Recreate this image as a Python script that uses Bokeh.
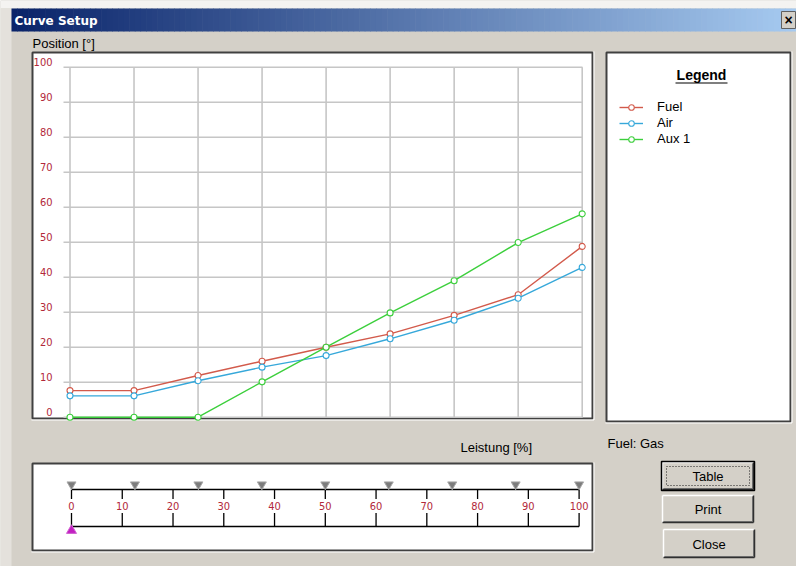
import numpy as np
from bokeh.plotting import figure
from bokeh.models import Range1d, Legend, LegendItem
from bokeh.core.properties import value
from bokeh.embed import file_html
from bokeh.resources import INLINE

# ---------------- data ----------------
load_pct = [0, 12.5, 25, 37.5, 50, 62.5, 75, 87.5, 100]
fuel = [7.6, 7.6, 11.9, 16.0, 20.0, 23.8, 29.1, 35.0, 48.8]
air = [6.1, 6.1, 10.4, 14.3, 17.6, 22.4, 27.7, 34.0, 42.8]
aux1 = [0.0, 0.0, 0.0, 10.1, 20.0, 29.8, 39.0, 49.9, 58.1]
series_names = ["Fuel", "Air", "Aux 1"]
series_colors = ["#d25a4b", "#36a8da", "#3ccf3c"]
pos_ticks = [0, 10, 20, 30, 40, 50, 60, 70, 80, 90, 100]
pos_tick_labels = ["0", "10", "20", "30", "40", "50", "60", "70", "80", "90", "100"]
slider_ticks = [0, 10, 20, 30, 40, 50, 60, 70, 80, 90, 100]
slider_tick_labels = ["0", "10", "20", "30", "40", "50", "60", "70", "80", "90", "100"]
current_load = [0]
window_title = "Curve Setup"
y_title = "Position [°]"
x_title = "Leistung [%]"
legend_title = "Legend"
fuel_type = "Fuel: Gas"
button_labels = ["Table", "Print", "Close"]

# ---------------- canvas (reference pixel coordinates) ----------------
W, H = 796, 566
DIALOG = "#d4d0c8"
TICK_RED = "#b2283a"
NARROW = value("DejaVu Sans Condensed, Liberation Sans")
SANS = value("Liberation Sans")


def range_for(v0, p0, v1, p1, lo, hi):
    """Range whose values v0/v1 land at reference pixels p0/p1 over canvas lo..hi."""
    scale = (p1 - p0) / (v1 - v0)
    return Range1d(start=v0 + (lo - p0) / scale, end=v0 + (hi - p0) / scale)


p = figure(width=W, height=H, x_range=Range1d(0, W), y_range=Range1d(H, 0),
           output_backend="svg", toolbar_location=None, min_border=0,
           x_axis_type=None, y_axis_type=None,
           border_fill_color=DIALOG, background_fill_color=DIALOG, outline_line_color=None)
p.grid.visible = False
p.extra_x_ranges = {
    "pct": range_for(0, 69.5, 100, 581.7, 0, W),
    "slider": range_for(0, 71.0, 100, 578.6, 0, W),
}
p.extra_y_ranges = {
    # bottom of canvas -> start, top -> end
    "pos": range_for(0, 416.7, 100, 66.7, H, 0),
}

# surroundings of the dialog
p.quad(left=0, right=W, top=0, bottom=8, fill_color="#f4f3f1", line_color=None)
p.quad(left=0, right=11, top=8, bottom=H, fill_color="#e4e1dc", line_color=None)

# title bar gradient
n = 140
xs = np.linspace(11, 796, n + 1)
c0 = np.array([10, 36, 106])
c1 = np.array([166, 202, 240])
cols = ["#%02x%02x%02x" % tuple((c0 + (c1 - c0) * t).astype(int)) for t in np.linspace(0, 1, n)]
p.quad(left=xs[:-1], right=xs[1:] + 0.6, top=8, bottom=31, fill_color=cols, line_color=None)
p.text(x=[14], y=[20], text=[window_title], text_font=value("DejaVu Sans"), text_font_style="bold",
       text_font_size="12px", text_color="white", text_baseline="middle")
# close button
p.quad(left=781, right=795, top=11, bottom=28, fill_color=DIALOG, line_color="#606060")
p.text(x=[788], y=[19.5], text=["×"], text_font=SANS, text_font_style="bold", text_font_size="14px",
       text_color="black", text_align="center", text_baseline="middle")

# captions
p.text(x=[32], y=[43], text=[y_title], text_font=SANS, text_font_size="13px",
       text_color="black", text_baseline="middle")
p.text(x=[460], y=[447], text=[x_title], text_font=SANS, text_font_size="13px",
       text_color="black", text_baseline="middle")
p.text(x=[607], y=[443], text=[fuel_type], text_font=SANS, text_font_size="13px",
       text_color="black", text_baseline="middle")


def sunken_box(l, t, r, b):
    p.quad(left=l, right=r, top=t, bottom=b, fill_color="white", line_color="#404040", line_width=2)
    p.segment(x0=[l - 1, r + 1.5], y0=[b + 1.5, t - 1], x1=[r + 1.5, r + 1.5], y1=[b + 1.5, b + 1.5],
              line_color="#ffffff", line_width=1)


sunken_box(32, 52, 592, 418)   # chart
sunken_box(606, 52, 790, 421)  # legend
sunken_box(32, 463, 592, 550)  # slider

# ---------------- chart ----------------
p.segment(x0=63, x1=582, y0=pos_ticks, y1=pos_ticks, y_range_name="pos",
          line_color="#c6c6c6", line_width=1.6)
p.segment(x0=load_pct, x1=load_pct, y0=0, y1=100, x_range_name="pct", y_range_name="pos",
          line_color="#c6c6c6", line_width=1.6)
p.text(x=52, y=pos_ticks, text=pos_tick_labels, y_range_name="pos", y_offset=-5,
       text_font=NARROW, text_font_size="11px", text_color=TICK_RED,
       text_align="right", text_baseline="middle")

items = []
for name, vals, col in zip(series_names, [fuel, air, aux1], series_colors):
    lr = p.line(x=load_pct, y=vals, x_range_name="pct", y_range_name="pos",
                line_color=col, line_width=1.4)
    sr = p.scatter(x=load_pct, y=vals, x_range_name="pct", y_range_name="pos", marker="circle",
                   size=6, fill_color="white", line_color=col, line_width=1.1)
    items.append(LegendItem(label=name, renderers=[lr, sr]))

# legend
p.text(x=[701], y=[74], text=[legend_title], text_font=SANS, text_font_style="bold",
       text_font_size="14px", text_color="black", text_align="center", text_baseline="middle")
p.segment(x0=[675], x1=[727], y0=[82.5], y1=[82.5], line_color="black", line_width=1.2)
legend = Legend(items=items, location=(619, H - 146),
                background_fill_alpha=0, border_line_alpha=0, padding=0, margin=0,
                glyph_width=24, glyph_height=14, label_height=14, spacing=1, label_standoff=14,
                label_text_font="Liberation Sans", label_text_font_size="13px",
                label_text_color="black")
p.add_layout(legend)

# ---------------- slider ----------------
p.segment(x0=[0, 0], x1=[100, 100], y0=[489, 526], y1=[489, 526], x_range_name="slider",
          line_color="black", line_width=1.3)
p.segment(x0=slider_ticks, x1=slider_ticks, y0=489, y1=498.5, x_range_name="slider",
          line_color="black", line_width=1.3)
p.segment(x0=slider_ticks, x1=slider_ticks, y0=512.5, y1=526, x_range_name="slider",
          line_color="black", line_width=1.3)
p.text(x=slider_ticks, y=505.5, text=slider_tick_labels, x_range_name="slider",
       text_font=NARROW, text_font_size="11px", text_color=TICK_RED,
       text_align="center", text_baseline="middle")
p.scatter(x=load_pct, y=484, x_range_name="slider", marker="inverted_triangle", size=9,
          fill_color="#7c7c7c", line_color="#a8a8a8", line_width=1)
p.scatter(x=current_load, y=530, x_range_name="slider", marker="triangle", size=10,
          fill_color="#c21fc2", line_color="#d060d0", line_width=1)

# ---------------- buttons ----------------
btn_boxes = [(662, 462, 753, 489), (662, 495, 753, 522), (663, 529, 754, 557)]
for i, (label, (l, t, r, b)) in enumerate(zip(button_labels, btn_boxes)):
    p.quad(left=l, right=r, top=t, bottom=b, fill_color=DIALOG, line_color=None)
    p.segment(x0=[l, l], y0=[t, t], x1=[r, l], y1=[t, b], line_color="white", line_width=1.5)
    p.segment(x0=[l + 1, r - 1], y0=[b - 1, t + 1], x1=[r - 1, r - 1], y1=[b - 1, b - 1],
              line_color="#808080", line_width=1)
    p.segment(x0=[l, r], y0=[b, t], x1=[r, r], y1=[b, b], line_color="#303030", line_width=1.5)
    if i == 0:
        p.quad(left=l - 1, right=r + 1, top=t - 1, bottom=b + 1, fill_color=None,
               line_color="black", line_width=1.5)
        p.quad(left=l + 4, right=r - 4, top=t + 4, bottom=b - 4, fill_color=None,
               line_color="#202020", line_width=1, line_dash="1 2")
    p.text(x=[(l + r) / 2], y=[(t + b) / 2 + 0.5], text=[label], text_font=SANS,
           text_font_size="13px", text_color="black", text_align="center", text_baseline="middle")

open("out.html", "w").write(file_html(p, INLINE))
